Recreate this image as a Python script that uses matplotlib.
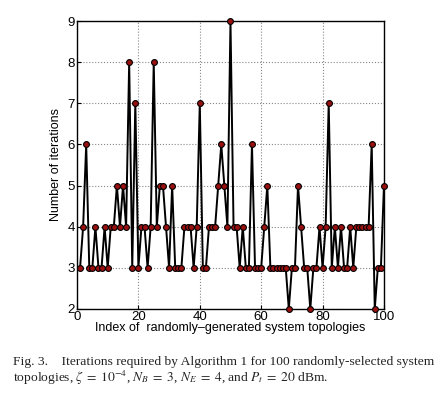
import numpy as np
import matplotlib
matplotlib.use('Agg')
import matplotlib.pyplot as plt

plt.rcParams['mathtext.fontset'] = 'stix'

# index of topology and iterations needed
topology_index = list(range(1, 101))
iterations = [3, 4, 6, 3, 3, 4, 3, 3, 4, 3,
              4, 4, 5, 4, 5, 4, 8, 3, 7, 3,
              4, 4, 3, 4, 8, 4, 5, 5, 4, 3,
              5, 3, 3, 3, 4, 4, 4, 3, 4, 7,
              3, 3, 4, 4, 4, 5, 6, 5, 4, 9,
              4, 4, 3, 4, 3, 3, 6, 3, 3, 3,
              4, 5, 3, 3, 3, 3, 3, 3, 2, 3,
              3, 5, 4, 3, 3, 2, 3, 3, 4, 3,
              4, 7, 3, 4, 3, 4, 3, 3, 4, 3,
              4, 4, 4, 4, 4, 6, 2, 3, 3, 5]
x_ticks = [0, 20, 40, 60, 80, 100]
y_ticks = [2, 3, 4, 5, 6, 7, 8, 9]

fig = plt.figure(figsize=(4.44, 3.97), dpi=100)
ax = fig.add_axes([0.1734, 0.2217, 0.6914, 0.7254])

ax.plot(topology_index, iterations, color='black', linewidth=1.4,
        marker='o', markersize=4.2, markerfacecolor='#9a1010',
        markeredgecolor='black', markeredgewidth=0.8, clip_on=False, zorder=3)

ax.set_xlim(0, 100)
ax.set_ylim(2, 9)
ax.set_xticks(x_ticks)
ax.set_yticks(y_ticks)
ax.tick_params(direction='in', length=3, labelsize=9.5, pad=1.5)
for s in ax.spines.values():
    s.set_linewidth(1.0)
ax.grid(True, linestyle=':', color='#888888', linewidth=0.8)

ax.set_xlabel('Index of  randomly\u2013generated system topologies',
              fontsize=9, family='Liberation Sans', labelpad=-1)
ax.set_ylabel('Number of iterations', fontsize=9, family='Liberation Sans', labelpad=4)
for lbl in ax.get_xticklabels() + ax.get_yticklabels():
    lbl.set_family('Liberation Sans')

fig.text(0.03, 0.080, 'Fig. 3.    Iterations required by Algorithm 1 for 100 randomly-selected system',
         fontsize=9.7, family='Liberation Serif', color='#222222')
fig.text(0.03, 0.038, r'topologies, $\zeta\;=\;10^{-4}$, $N_B\;=\;3$, $N_E\;=\;4$, and $P_t\;=\;20$ dBm.',
         fontsize=9.7, family='Liberation Serif', color='#222222')

fig.savefig('out.png', dpi=100)
